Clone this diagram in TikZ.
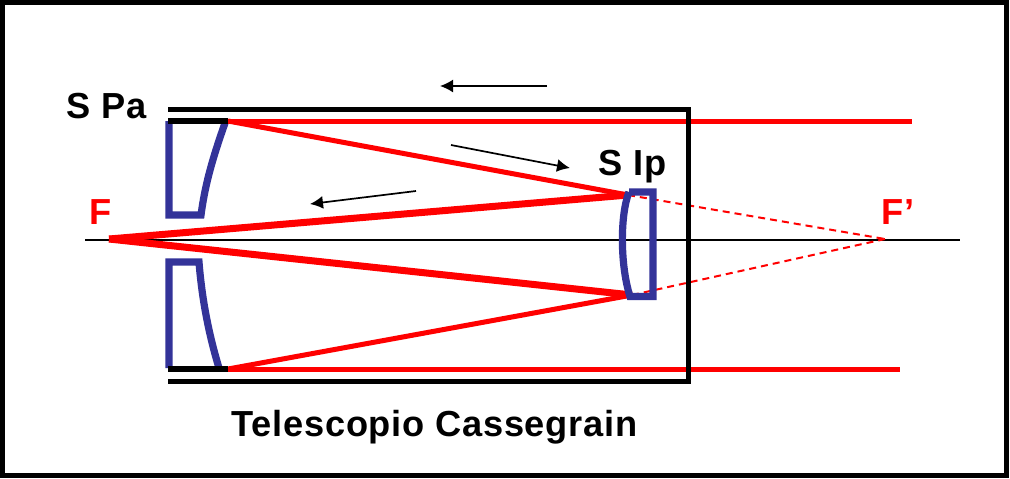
\documentclass[tikz,border=0pt]{standalone}
\usepackage{fontspec}
\setmainfont[LetterSpace=2]{Liberation Sans}
\usetikzlibrary{arrows.meta}
\begin{document}
\begin{tikzpicture}[x=0.01cm,y=-0.01cm,>={Latex[length=0.13cm,width=0.13cm]},
	raybeam/.style={draw=red,line width=0.05cm},
	thickbeam/.style={draw=red,line width=0.07cm},
	virtualbeam/.style={draw=red,line width=0.02cm,dash pattern=on 0.07cm off 0.05cm},
	tube/.style={draw=black,line width=0.05cm},
	mount/.style={draw=black,line width=0.06cm},
	mirror/.style={draw=mirrorblue,line width=0.072cm,line join=miter},
	flow/.style={->,draw=black,line width=0.017cm},
	textlabel/.style={inner sep=0pt,font=\fontsize{10.3pt}{12pt}\bfseries},
	redlabel/.style={textlabel,text=red}]
	\definecolor{mirrorblue}{RGB}{51,51,153}
	\useasboundingbox (0,0) rectangle (1010,478);
	\draw[black,line width=0.05cm] (2.5,2.5) rectangle (1006.5,475.5);
	\coordinate (f) at (109,239);
	\coordinate (fp) at (885,239);
	\coordinate (up0) at (228,121);
	\coordinate (up1) at (912,121);
	\coordinate (lo0) at (228,369);
	\coordinate (lo1) at (900,369);
	\coordinate (hitup) at (628,195);
	\coordinate (hitlo) at (632,295);
	\coordinate (axis0) at (85,239.5);
	\coordinate (axis1) at (960,239.5);
	\coordinate (tubeA) at (168,109);
	\coordinate (tubeB) at (688,109);
	\coordinate (tubeC) at (688,381);
	\coordinate (tubeD) at (168,381);
	\coordinate (mountA) at (168,121);
	\coordinate (mountB) at (168,369);
	\draw[black,line width=0.02cm] (axis0) to (axis1);
	\draw[raybeam] (up0) to (up1);
	\draw[raybeam] (lo0) to (lo1);
	\draw[raybeam] (up0) to (hitup);
	\draw[raybeam] (lo0) to (hitlo);
	\draw[thickbeam] (f) to (hitup);
	\draw[thickbeam] (f) to (hitlo);
	\draw[virtualbeam] (hitup) to (fp);
	\draw[virtualbeam] (hitlo) to (fp);
	\draw[tube] (tubeA) -- (tubeB) -- (tubeC) -- (tubeD);
	\draw[mirror] (169,121) -- (169,215) -- (201,215) .. controls (205,185) and (212,160) .. (225,123);
	\draw[mirror] (169,368) -- (169,262) -- (199,262) .. controls (202,300) and (209,335) .. (219,368);
	\draw[mirror] (629,192) -- (653,192) -- (653,296.5) -- (630,296.5) .. controls (620,265) and (620,215) .. (629,192);
	\draw[mount] (mountA) to (up0);
	\draw[mount] (mountB) to (lo0);
	\coordinate (topflowA) at (547,86);
	\coordinate (topflowB) at (440,86);
	\coordinate (midflowA) at (451,145);
	\coordinate (midflowB) at (570,168);
	\coordinate (lowflowA) at (416,191);
	\coordinate (lowflowB) at (310,204);
	\draw[flow] (topflowA) to (topflowB);
	\draw[flow] (midflowA) to (midflowB);
	\draw[flow] (lowflowA) to (lowflowB);
	\node[textlabel,anchor=base west] (spa) at (66,118) {S Pa};
	\node[textlabel,anchor=base west] (sip) at (598,175) {S Ip};
	\node[redlabel,anchor=base west] (flabel) at (89,224) {F};
	\node[redlabel,anchor=base west] (fplabel) at (881,224) {F’};
	\node[textlabel,anchor=base west] (title) at (231,436) {Telescopio Cassegrain};
\end{tikzpicture}
\end{document}
